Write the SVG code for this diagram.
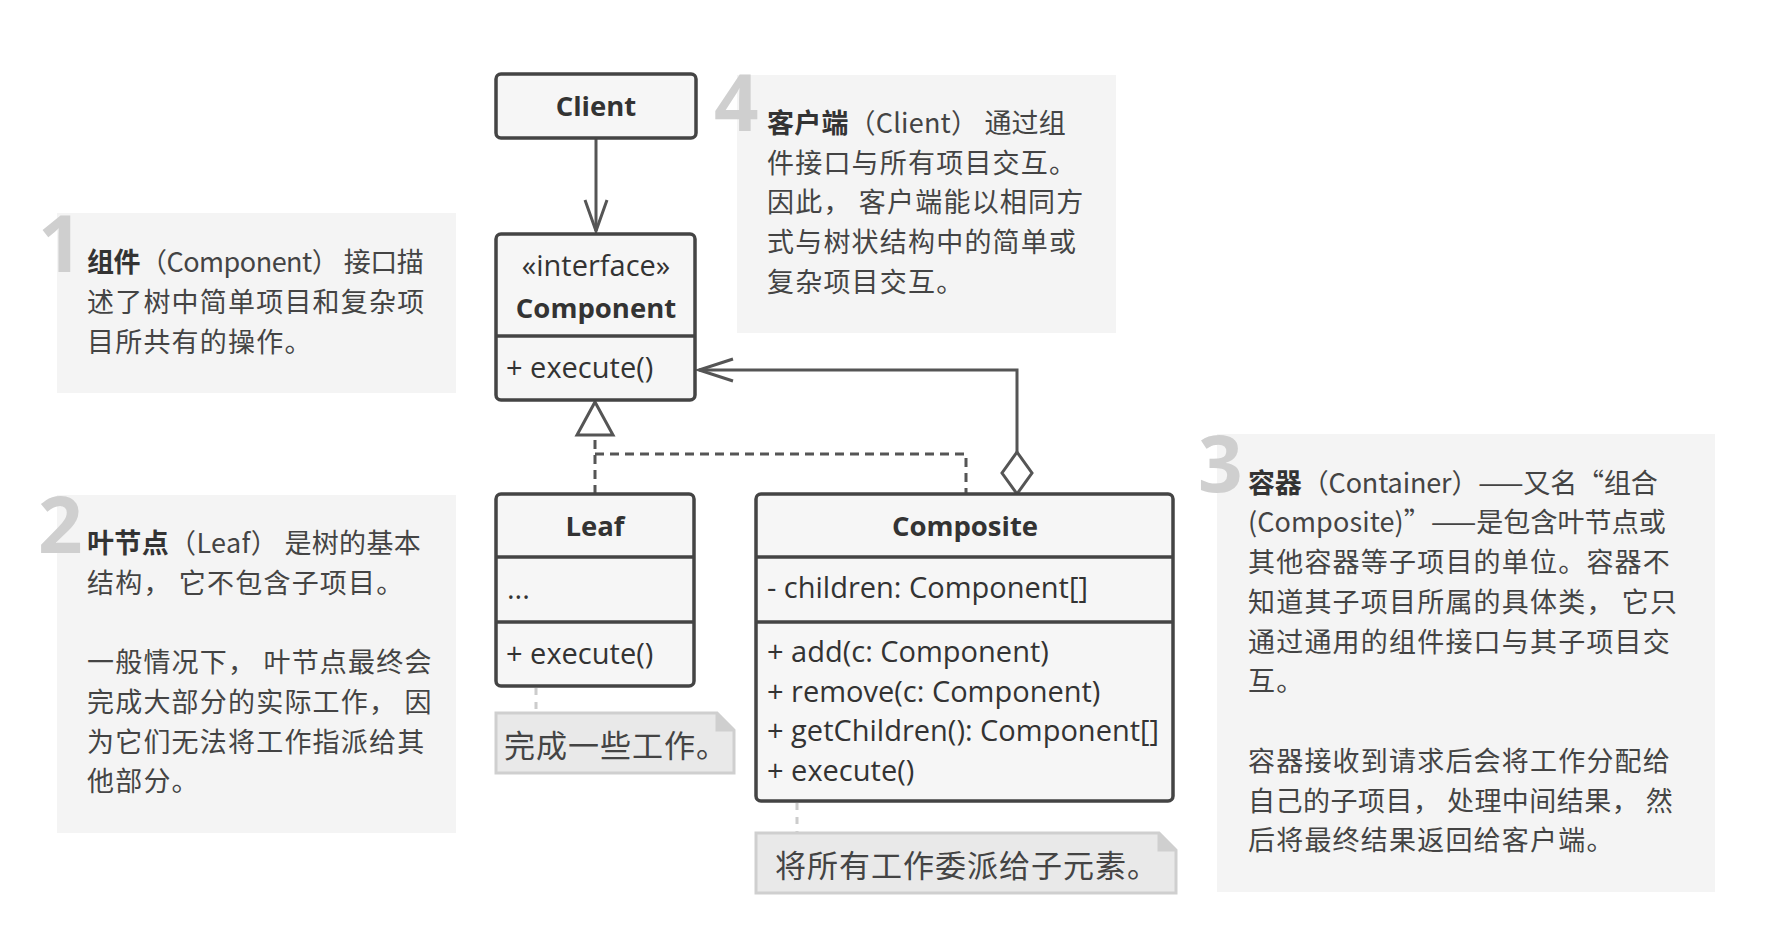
<svg xmlns="http://www.w3.org/2000/svg" width="1780" height="946" viewBox="0 0 1780 946">
<style>
.bg{fill:#ffffff}
.note{fill:#f4f4f4}
.num{font-family:"Open Sans","Liberation Sans",sans-serif;font-weight:700;font-size:78px;fill:#cfcfcf}
.nt{font-family:"Noto Sans CJK SC","Noto Sans",sans-serif;font-size:27px;letter-spacing:1.2px;fill:#444444}
.b{font-weight:700;fill:#333333}
.box{fill:#f6f6f6;stroke:#444444;stroke-width:3.5}
.uml{font-family:"Open Sans","Liberation Sans",sans-serif;font-size:29px;fill:#333333}
.ttl{font-weight:700;text-anchor:middle;font-size:27.5px}
.ctr{text-anchor:middle}
.line{fill:none;stroke:#555555;stroke-width:3}
.dash{fill:none;stroke:#555555;stroke-width:3;stroke-dasharray:9 6}
.sn{fill:#e9e9e9;stroke:#cfcfcf;stroke-width:3}
.snd{fill:none;stroke:#cccccc;stroke-width:3;stroke-dasharray:7 7}
.snt{font-family:"Noto Sans CJK SC","Noto Sans",sans-serif;font-size:31px;letter-spacing:1px;fill:#444444}
</style>
<rect class="bg" x="0" y="0" width="1780" height="946"/>

<g id="note1">
<rect class="note" x="57" y="213" width="399" height="180"/>
<text class="num" x="38" y="272">1</text>
<text class="nt" x="87" y="272" textLength="338" lengthAdjust="spacing"><tspan class="b">组件</tspan>（Component） 接口描</text>
<text class="nt" x="87" y="312">述了树中简单项目和复杂项</text>
<text class="nt" x="87" y="352">目所共有的操作。</text>
</g>

<g id="note2">
<rect class="note" x="57" y="495" width="399" height="338"/>
<text class="num" x="38" y="553">2</text>
<text class="nt" x="87" y="553" textLength="335" lengthAdjust="spacing"><tspan class="b">叶节点</tspan>（Leaf） 是树的基本</text>
<text class="nt" x="87" y="593">结构， 它不包含子项目。</text>
<text class="nt" x="87" y="672">一般情况下， 叶节点最终会</text>
<text class="nt" x="87" y="712">完成大部分的实际工作， 因</text>
<text class="nt" x="87" y="752">为它们无法将工作指派给其</text>
<text class="nt" x="87" y="791">他部分。</text>
</g>

<g id="note4">
<rect class="note" x="737" y="75" width="379" height="258"/>
<text class="num" x="714" y="131">4</text>
<text class="nt" x="767" y="133" textLength="300" lengthAdjust="spacing"><tspan class="b">客户端</tspan>（Client） 通过组</text>
<text class="nt" x="767" y="173">件接口与所有项目交互。</text>
<text class="nt" x="767" y="212">因此， 客户端能以相同方</text>
<text class="nt" x="767" y="252">式与树状结构中的简单或</text>
<text class="nt" x="767" y="292">复杂项目交互。</text>
</g>

<g id="note3">
<rect class="note" x="1217" y="434" width="498" height="458"/>
<text class="num" x="1198" y="492">3</text>
<text class="nt" x="1248" y="493" textLength="411" lengthAdjust="spacing"><tspan class="b">容器</tspan>（Container）——又名“组合</text>
<text class="nt" x="1248" y="532" textLength="419" lengthAdjust="spacing">(Composite)”——是包含叶节点或</text>
<text class="nt" x="1248" y="572">其他容器等子项目的单位。容器不</text>
<text class="nt" x="1248" y="612">知道其子项目所属的具体类， 它只</text>
<text class="nt" x="1248" y="652">通过通用的组件接口与其子项目交</text>
<text class="nt" x="1248" y="691">互。</text>
<text class="nt" x="1248" y="771">容器接收到请求后会将工作分配给</text>
<text class="nt" x="1248" y="811" textLength="426" lengthAdjust="spacing">自己的子项目， 处理中间结果， 然</text>
<text class="nt" x="1248" y="850">后将最终结果返回给客户端。</text>
</g>

<g id="connectors">
<path class="line" d="M596 138 V231"/>
<path class="line" d="M585 200 L596 231 L607 200"/>
<path class="dash" d="M595 494 V436"/>
<path class="dash" d="M595 454 H966 V494"/>
<path d="M595 402 L613 435 L577 435 Z" fill="#ffffff" stroke="#555555" stroke-width="3" stroke-linejoin="miter"/>
<path class="line" d="M1017 452 V370 H699"/>
<path class="line" d="M733 359 L699 370 L733 381"/>
<path d="M1017 452 L1032 473 L1017 494 L1002 473 Z" fill="#ffffff" stroke="#555555" stroke-width="3"/>
<path class="snd" d="M536 688 V713"/>
<path class="snd" d="M797 803 V833"/>
</g>

<g id="client">
<rect class="box" x="496" y="74" width="200" height="64" rx="5"/>
<text class="uml ttl" x="596" y="116">Client</text>
</g>

<g id="component">
<rect class="box" x="496" y="234" width="199" height="166" rx="5"/>
<line x1="496" y1="336" x2="695" y2="336" stroke="#444444" stroke-width="3.5"/>
<text class="uml ctr" x="596" y="276">«interface»</text>
<text class="uml ttl" x="596" y="318">Component</text>
<text class="uml" x="506" y="378">+ execute()</text>
</g>

<g id="leaf">
<rect class="box" x="496" y="494" width="198" height="192" rx="5"/>
<line x1="496" y1="557" x2="694" y2="557" stroke="#444444" stroke-width="3.5"/>
<line x1="496" y1="622" x2="694" y2="622" stroke="#444444" stroke-width="3.5"/>
<text class="uml ttl" x="595" y="536">Leaf</text>
<text class="uml" x="507" y="599">...</text>
<text class="uml" x="506" y="664">+ execute()</text>
</g>

<g id="composite">
<rect class="box" x="756" y="494" width="417" height="307" rx="5"/>
<line x1="756" y1="557" x2="1173" y2="557" stroke="#444444" stroke-width="3.5"/>
<line x1="756" y1="622" x2="1173" y2="622" stroke="#444444" stroke-width="3.5"/>
<text class="uml ttl" x="965" y="536">Composite</text>
<text class="uml" x="767" y="598">- children: Component[]</text>
<text class="uml" x="767" y="662">+ add(c: Component)</text>
<text class="uml" x="767" y="702">+ remove(c: Component)</text>
<text class="uml" x="767" y="741">+ getChildren(): Component[]</text>
<text class="uml" x="767" y="781">+ execute()</text>
</g>

<g id="leafnote">
<path class="sn" d="M496 713 H717 L734 730 V773 H496 Z"/>
<path d="M717 713 V730 H734" fill="#cfcfcf" stroke="#cfcfcf" stroke-width="3"/>
<text class="snt" x="504" y="757">完成一些工作。</text>
</g>

<g id="compositenote">
<path class="sn" d="M756 833 H1159 L1176 850 V893 H756 Z"/>
<path d="M1159 833 V850 H1176" fill="#cfcfcf" stroke="#cfcfcf" stroke-width="3"/>
<text class="snt" x="775" y="877">将所有工作委派给子元素。</text>
</g>
</svg>
